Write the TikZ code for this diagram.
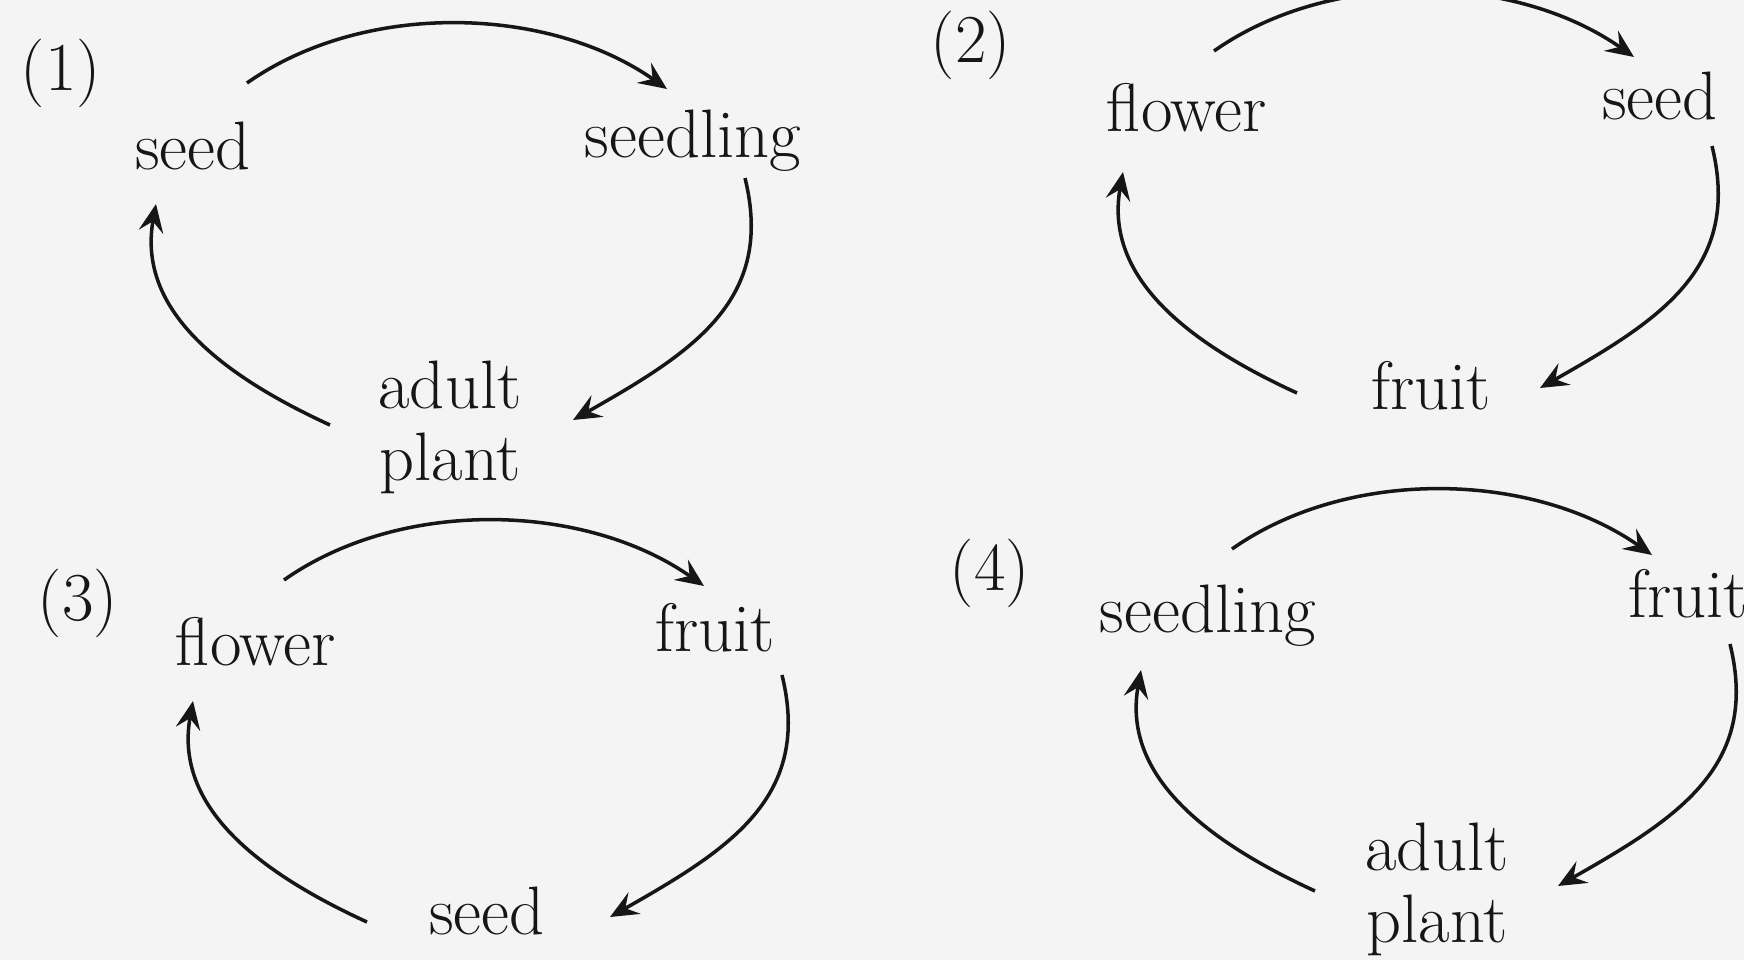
\documentclass[tikz,border=0pt]{standalone}
\usetikzlibrary{arrows.meta}
\definecolor{bgc}{RGB}{244,244,244}
\definecolor{ink}{RGB}{22,22,22}
\tikzset{
  lbl/.style={font=\fontsize{19.5}{20.5}\selectfont, text=ink, inner sep=0pt},
  cyc/.style={draw=ink, line width=1pt, -{Stealth[length=8pt,width=7pt,inset=3pt]}}
}
\newcommand\lifearcs[1]{%
  \coordinate (#1ts) at (247,83);  \coordinate (#1te) at (667,89);
  \coordinate (#1rs) at (745,178); \coordinate (#1re) at (573,420);
  \coordinate (#1ls) at (330,425); \coordinate (#1le) at (156,204);
  \draw[cyc] (#1ts) .. controls +(118,-83) and +(-118,-83) .. (#1te);
  \draw[cyc] (#1rs) .. controls +(30,122) and +(120,-68) .. (#1re);
  \draw[cyc] (#1ls) .. controls +(-120,-55) and +(-18,100) .. (#1le);
}
\begin{document}
\begin{tikzpicture}[x=0.01cm,y=-0.01cm]
\fill[bgc] (0,0) rectangle (1744,960);
\useasboundingbox (0,0) rectangle (1744,960);

% panel 1
\node[lbl,anchor=base] (n1) at (61,90) {(1)};
\node[lbl,anchor=base] (p1seed) at (193,169) {seed};
\node[lbl,anchor=base] (p1seedling) at (693,157) {seedling};
\node[lbl,align=center] (p1adult) at (450,427) {adult\\plant};
\begin{scope}\lifearcs{p1}\end{scope}

% panel 2
\node[lbl,anchor=base] (n2) at (971,62) {(2)};
\node[lbl,anchor=base] (p2flower) at (1187,131) {flower};
\node[lbl,anchor=base] (p2seed) at (1660,119) {seed};
\node[lbl,anchor=base] (p2fruit) at (1431,409) {fruit};
\begin{scope}[shift={(967,-32)}]\lifearcs{p2}\end{scope}

% panel 3
\node[lbl,anchor=base] (n3) at (78,620) {(3)};
\node[lbl,anchor=base] (p3flower) at (256,665) {flower};
\node[lbl,anchor=base] (p3fruit) at (715,651) {fruit};
\node[lbl,anchor=base] (p3seed) at (487,934) {seed};
\begin{scope}[shift={(37,497)}]\lifearcs{p3}\end{scope}

% panel 4
\node[lbl,anchor=base] (n4) at (990,590) {(4)};
\node[lbl,anchor=base] (p4seedling) at (1208,632) {seedling};
\node[lbl,anchor=base] (p4fruit) at (1688,617) {fruit};
\node[lbl,align=center] (p4adult) at (1437,889) {adult\\plant};
\begin{scope}[shift={(985,466)}]\lifearcs{p4}\end{scope}
\end{tikzpicture}
\end{document}
